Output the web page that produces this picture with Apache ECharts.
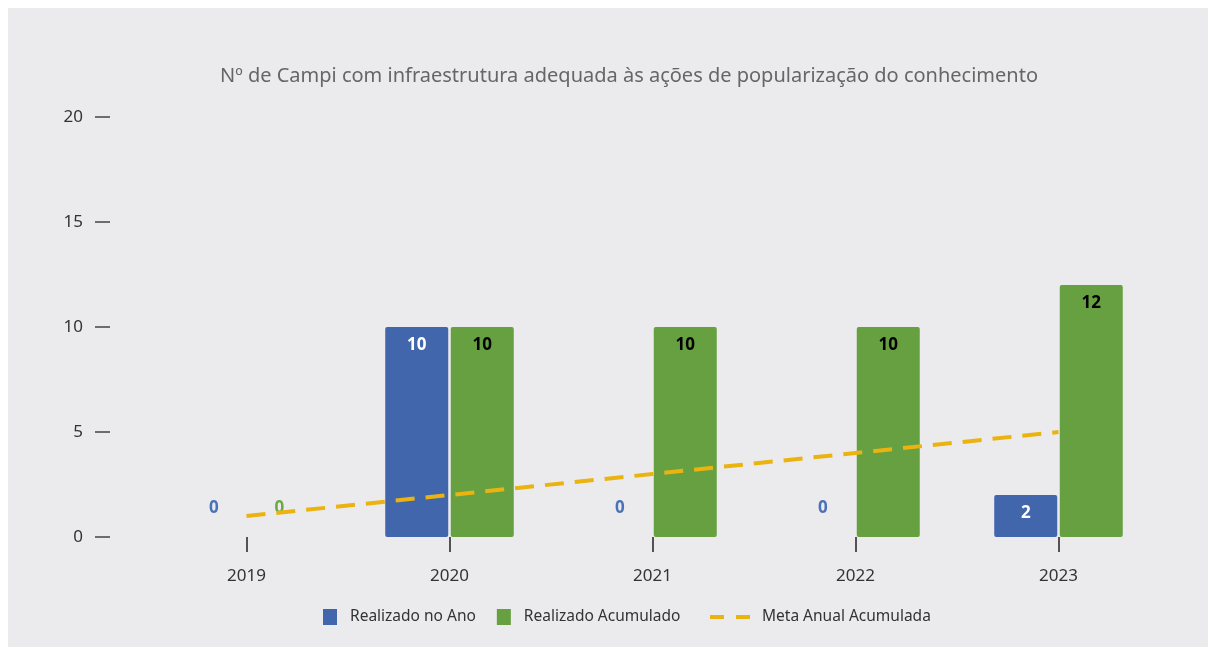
<!DOCTYPE html>
<html>
<head>
<meta charset="utf-8">
<script src="https://cdn.jsdelivr.net/npm/echarts@6/dist/echarts.min.js"></script>
<style>
  html, body { margin: 0; padding: 0; background: #ffffff; }
  #panel { position: absolute; left: 8px; top: 8px; width: 1200px; height: 639px; background: #ebebed; }
  #chart { position: absolute; left: 0; top: 0; width: 1216px; height: 655px; }
</style>
</head>
<body>
<div id="panel"></div>
<div id="chart"></div>
<script>
  const years = ["2019", "2020", "2021", "2022", "2023"];
  const realizadoAno = [0, 10, 0, 0, 2];
  const realizadoAcumulado = [0, 10, 10, 10, 12];
  const metaAcumulada = [1, 2, 3, 4, 5];
  const yTicks = [0, 5, 10, 15, 20];

  const blue = "#4166ac";
  const green = "#66a040";
  const gold = "#ebb30f";

  // zero bars get their label floated above the baseline in the bar colour
  const withZeroLabels = (values, color) =>
    values.map((v) =>
      v === 0
        ? { value: v, label: { position: "top", distance: 20, color: color } }
        : v
    );

  const chart = echarts.init(document.getElementById("chart"));

  chart.setOption({
    backgroundColor: "transparent",
    textStyle: { fontFamily: "Noto Sans" },
    title: {
      text: "Nº de Campi com infraestrutura adequada às ações de popularização do conhecimento",
      left: 624,
      textAlign: "center",
      top: 61,
      textStyle: { fontSize: 20, fontWeight: "normal", color: "#666666", fontFamily: "Noto Sans" },
    },
    legend: [
      {
        data: ["Realizado no Ano", "Realizado Acumulado"],
        left: 318,
        top: 604,
        itemWidth: 14,
        itemHeight: 16,
        itemGap: 21,
        icon: "rect",
        textStyle: { fontSize: 15.5, color: "#333333", padding: [0, 0, 0, 8] },
      },
      {
        data: [{ name: "Meta Anual Acumulada", icon: "path://M0,0H14V4H0Z M26,0H40V4H26Z" }],
        left: 705,
        top: 604,
        itemWidth: 40,
        itemHeight: 4,
        textStyle: { fontSize: 15.5, color: "#333333", padding: [0, 0, 0, 7] },
      },
    ],
    grid: { left: 145, right: 56, top: 117, bottom: 118 },
    xAxis: {
      type: "category",
      data: years,
      axisLine: { show: false },
      axisTick: { show: true, alignWithLabel: true, length: 15, lineStyle: { color: "#222222", width: 1.5 } },
      axisLabel: { margin: 31, fontSize: 17, color: "#333333" },
    },
    yAxis: {
      type: "value",
      min: yTicks[0],
      max: yTicks[yTicks.length - 1],
      interval: 5,
      offset: 35,
      splitLine: { show: false },
      axisLine: { show: false },
      axisTick: { show: true, length: 15, lineStyle: { color: "#444444", width: 1.5 } },
      axisLabel: { margin: 27, fontSize: 17, color: "#333333" },
    },
    series: [
      {
        name: "Realizado no Ano",
        type: "bar",
        data: withZeroLabels(realizadoAno, "#4a72b8"),
        barWidth: 63,
        barGap: "4%",
        itemStyle: { color: blue, borderRadius: 2 },
        label: {
          show: true,
          position: "insideTop",
          distance: 10,
          color: "#ffffff",
          fontSize: 17,
          fontWeight: "bold",
        },
      },
      {
        name: "Realizado Acumulado",
        type: "bar",
        data: withZeroLabels(realizadoAcumulado, "#6ca844"),
        barWidth: 63,
        itemStyle: { color: green, borderRadius: 2 },
        label: {
          show: true,
          position: "insideTop",
          distance: 10,
          color: "#000000",
          fontSize: 17,
          fontWeight: "bold",
        },
      },
      {
        name: "Meta Anual Acumulada",
        type: "line",
        data: metaAcumulada,
        symbol: "none",
        z: 5,
        itemStyle: { color: gold },
        lineStyle: { color: gold, width: 4, type: [19, 11] },
      },
    ],
  });
</script>
</body>
</html>
